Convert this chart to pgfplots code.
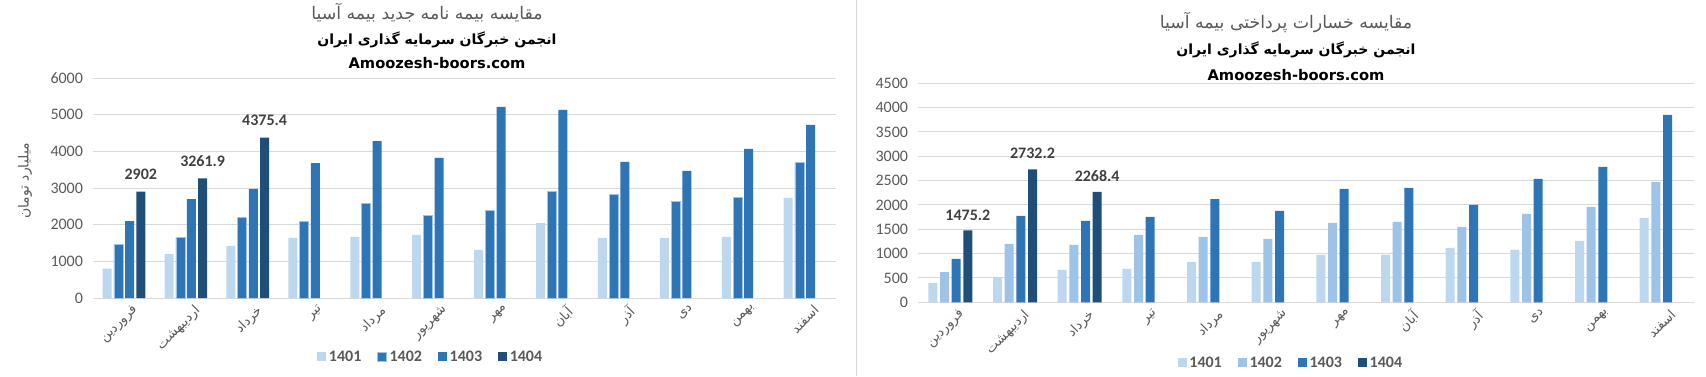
\documentclass[border=0pt]{standalone}
\usepackage{pgfplots}
\pgfplotsset{compat=1.18}
\usepackage{pgfplotstable}
\usepackage{fontspec}
\setmainfont{Carlito}
\newfontfamily\arabicfont[Script=Arabic]{DejaVu Sans}
\newfontfamily\urlfont{DejaVu Sans}
\TeXXeTstate=1
\newcommand{\fa}[1]{{\arabicfont\beginR #1\endR}}
\definecolor{cA}{HTML}{BDD7EE}
\definecolor{cB}{HTML}{9DC3E6}
\definecolor{cC}{HTML}{2E75B6}
\definecolor{cD}{HTML}{1F4E79}
\definecolor{cgrid}{HTML}{D9D9D9}
\definecolor{ctxt}{HTML}{595959}
\definecolor{clab}{HTML}{404040}

\pgfplotstableread{
x a b c
0 800 1465 2100
1 1200 1655 2700
2 1420 2200 2975
3 1640 2090 3680
4 1665 2580 4280
5 1720 2255 3820
6 1310 2390 5210
7 2045 2910 5130
8 1640 2830 3710
9 1640 2635 3465
10 1665 2745 4065
11 2730 3700 4720
}\leftdata
\pgfplotstableread{
x d
0 2902
1 3261.9
2 4375.4
}\leftlast
\pgfplotstableread{
x a b c
0 397 622 890
1 520 1198 1773
2 664 1177 1670
3 684 1383 1753
4 828 1342 2122
5 828 1301 1876
6 972 1630 2328
7 972 1650 2349
8 1116 1547 1999
9 1075 1815 2534
10 1260 1958 2780
11 1732 2472 3849
}\rightdata
\pgfplotstableread{
x d
0 1475.2
1 2732.2
2 2268.4
}\rightlast

\pgfplotsset{
  common/.style={
    scale only axis,
    bar width=6.75pt,
    xmin=-0.5, xmax=11.5,
    ymin=0,
    axis line style={draw=none},
    tick style={draw=none},
    ymajorgrids,
    major grid style={draw=cgrid, line width=0.75pt},
    xtick={0,...,11},
    xticklabels={\fa{فروردین},\fa{اردیبهشت},\fa{خرداد},\fa{تیر},\fa{مرداد},\fa{شهریور},\fa{مهر},\fa{آبان},\fa{آذر},\fa{دی},\fa{بهمن},\fa{اسفند}},
    xticklabel style={rotate=45, anchor=north east, inner sep=0pt, font=\fontsize{10}{12}\selectfont, text=ctxt, yshift=-4pt, xshift=4pt},
    yticklabel style={font=\fontsize{12}{14}\selectfont, text=ctxt, xshift=-4pt},
    /pgf/number format/.cd, 1000 sep={}, assume math mode=true, /pgfplots/.cd,
    legend columns=4,
    legend image code/.code={\fill[##1] (0pt,-3.4pt) rectangle (6.75pt,3.4pt);},
    every node near coord/.append style={font=\bfseries\fontsize{12}{14}\selectfont, text=clab, inner sep=0pt, anchor=south},
  }
}

\begin{document}
\begin{tikzpicture}
\path[use as bounding box] (0,0) rectangle (1279.5pt,282pt);
\draw[cgrid, line width=0.75pt] (642.5pt,0) -- (642.5pt,282pt);

% ---------- left chart ----------
\begin{axis}[ybar=1.65pt, common,
  at={(69.75pt,58.5pt)}, anchor=south west,
  width=557.25pt, height=165pt,
  ymax=6000, ytick={0,1000,...,6000},
  legend style={at={(axis description cs:0.455,-0.268)}, anchor=center, draw=none, fill=none,
    font=\color{ctxt}\bfseries\fontsize{12}{14}\selectfont,
    /tikz/every even column/.append style={column sep=10pt}},
]
\addplot[fill=cA, draw=none] table[x=x,y=a]{\leftdata};
\addplot[fill=cC, draw=cB, line width=0.4pt] table[x=x,y=b]{\leftdata};
\addplot[fill=cC, draw=none] table[x=x,y=c]{\leftdata};
\addplot[fill=cD, draw=none, nodes near coords, every node near coord/.append style={yshift=8.5pt}] table[x=x,y=d]{\leftlast};
\legend{1401,1402,1403,1404}
\end{axis}
\node[rotate=90, text=ctxt, font=\fontsize{10.5}{12}\selectfont] at (18.75pt,146.25pt) {\fa{میلیارد تومان}};
\node[text=ctxt, font=\fontsize{13}{15}\selectfont] at (320.25pt,272.25pt) {\fa{مقایسه بیمه نامه جدید بیمه آسیا}};
\node[text=black, font=\bfseries\fontsize{10.5}{13}\selectfont] at (327.75pt,252pt) {\fa{انجمن خبرگان سرمایه گذاری ایران}};
\node[text=black, font=\urlfont\bfseries\fontsize{11}{13}\selectfont] at (327.75pt,234.75pt) {Amoozesh-boors.com};

% ---------- right chart ----------
\begin{axis}[ybar=2pt, common,
  at={(688.5pt,55.3pt)}, anchor=south west,
  width=582pt, height=164.25pt,
  ymax=4500, ytick={0,500,...,4500},
  legend style={at={(axis description cs:0.481,-0.277)}, anchor=center, draw=none, fill=none,
    font=\color{ctxt}\bfseries\fontsize{12}{14}\selectfont,
    /tikz/every even column/.append style={column sep=10pt}},
]
\addplot[fill=cA, draw=none] table[x=x,y=a]{\rightdata};
\addplot[fill=cB, draw=none] table[x=x,y=b]{\rightdata};
\addplot[fill=cC, draw=none] table[x=x,y=c]{\rightdata};
\addplot[fill=cD, draw=none, nodes near coords, every node near coord/.append style={yshift=7.5pt}] table[x=x,y=d]{\rightlast};
\legend{1401,1402,1403,1404}
\end{axis}
\node[text=ctxt, font=\fontsize{13}{15}\selectfont] at (964.5pt,265.5pt) {\fa{مقایسه خسارات پرداختی بیمه آسیا}};
\node[text=black, font=\bfseries\fontsize{10.5}{13}\selectfont] at (972pt,244.5pt) {\fa{انجمن خبرگان سرمایه گذاری ایران}};
\node[text=black, font=\urlfont\bfseries\fontsize{11}{13}\selectfont] at (972pt,225.75pt) {Amoozesh-boors.com};
\end{tikzpicture}
\end{document}
